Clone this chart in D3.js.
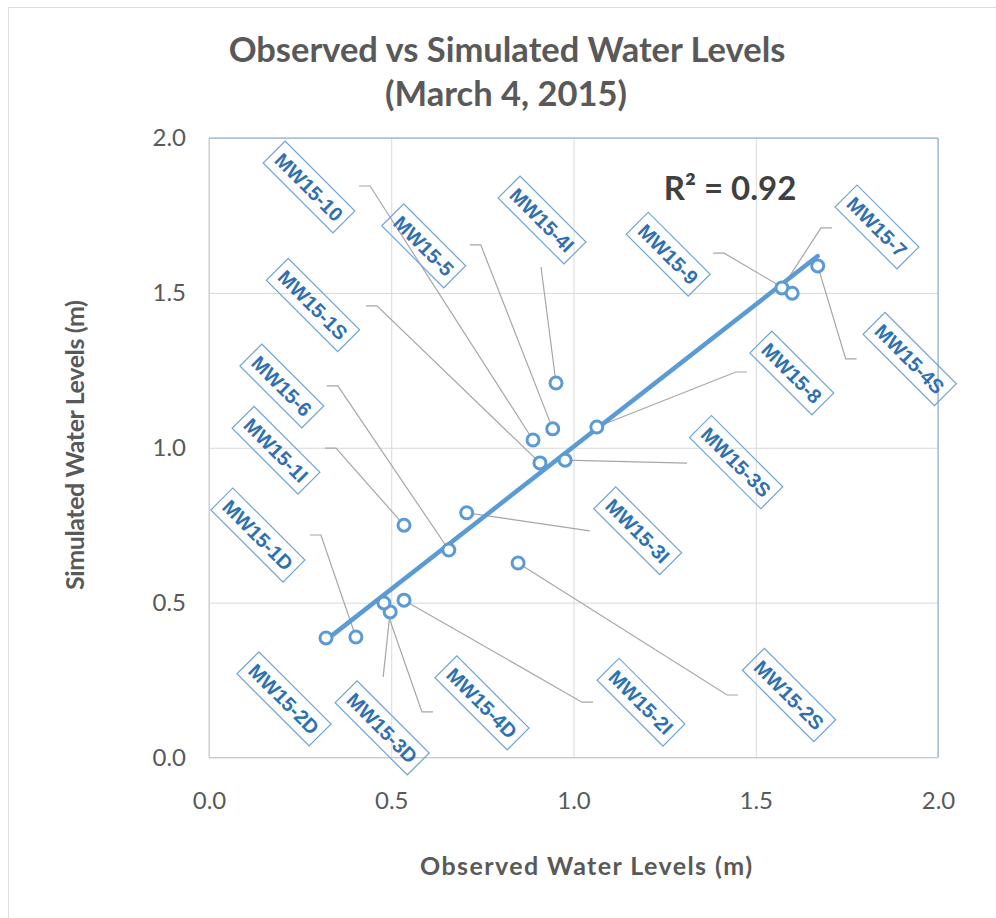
<!DOCTYPE html>
<html>
<head>
<meta charset="UTF-8">
<style>
body {
	margin: 0 ;
	background-color: #ffffff ;
}
.tick text {
	font-family: Lato, "Open Sans", sans-serif ;
	font-size: 24px ;
	fill: #595959 ;
}
.grid line {
	stroke: #d9d9d9 ;
}
.well-label {
	font-family: "Liberation Sans", Arial, sans-serif ;
	font-weight: bold ;
	font-size: 20px ;
	fill: #2f70b0 ;
}
</style>
<title>Observed vs Simulated</title>
<script src="https://cdn.jsdelivr.net/npm/d3@7"></script>
</head>
<body>
<div id="chart"></div>

<script type="text/javascript">

	// well names and observed / simulated levels (m)
	const wells     = [ "MW15-2D", "MW15-1D", "MW15-3D", "MW15-4D", "MW15-2I", "MW15-1I", "MW15-6", "MW15-3I", "MW15-2S",
	                    "MW15-10", "MW15-5", "MW15-1S", "MW15-3S", "MW15-4I", "MW15-8", "MW15-7", "MW15-9", "MW15-4S" ] ;
	const observed  = [ 0.321, 0.403, 0.497, 0.480, 0.535, 0.535, 0.658, 0.707, 0.848,
	                    0.889, 0.943, 0.908, 0.977, 0.952, 1.064, 1.572, 1.600, 1.670 ] ;
	const simulated = [ 0.386, 0.389, 0.470, 0.499, 0.508, 0.750, 0.670, 0.790, 0.628,
	                    1.025, 1.061, 0.951, 0.960, 1.209, 1.067, 1.516, 1.499, 1.587 ] ;

	// linear trendline (as shown on the chart)
	const trendSlope = 0.919 ;
	const trendIntercept = 0.084 ;
	const rSquared = "0.92" ;

	const tickValues = [ 0, 0.5, 1.0, 1.5, 2.0 ] ;

	// label placement, pixel offsets from the point: label centre, leader start, elbow?
	const labelLayout = {
		"MW15-2D": [ -42, 61, null, null, false ],
		"MW15-1D": [ -98, -102, -46, -102, true ],
		"MW15-3D": [ -8, 116, -7, 65, false ],
		"MW15-4D": [ 98, 100, 49, 109, true ],
		"MW15-2I": [ 237, 102, 189, 102, true ],
		"MW15-1I": [ -128, -75, -79, -77, true ],
		"MW15-6":  [ -167, -164, -122, -164, true ],
		"MW15-3I": [ 171, 18, 123, 18, false ],
		"MW15-2S": [ 271, 132, 220, 132, true ],
		"MW15-10": [ -224, -253, -174, -254, true ],
		"MW15-5":  [ -129, -183, -83, -184, true ],
		"MW15-1S": [ -227, -158, -174, -157, true ],
		"MW15-3S": [ 171, 2, 122, 3, false ],
		"MW15-4I": [ -14, -163, -15, -116, false ],
		"MW15-8":  [ 195, -54, 150, -55, true ],
		"MW15-7":  [ 95, -61, 50, -60, true ],
		"MW15-9":  [ -124, -39, -79, -40, true ],
		"MW15-4S": [ 92, 93, 39, 93, true ]
	} ;

	const width = 996 ;
	const height = 918 ;
	const plot = { left: 209, right: 938, top: 138, bottom: 757.5 } ;

	const svg = d3.select( "#chart" ).append( "svg" )
		.attr( "width", width )
		.attr( "height", height ) ;

	// outer chart frame
	svg.append( "rect" )
		.attr( "x", 8.5 ).attr( "y", 7.5 )
		.attr( "width", width ).attr( "height", height )
		.attr( "fill", "none" )
		.attr( "stroke", "#dcdcdc" ) ;

	const x = d3.scaleLinear().domain( [ 0, 2 ] ).range( [ plot.left, plot.right ] ) ;
	const y = d3.scaleLinear().domain( [ 0, 2 ] ).range( [ plot.bottom, plot.top ] ) ;

	// gridlines
	svg.append( "g" )
		.attr( "class", "grid" )
		.attr( "transform", "translate(0," + plot.bottom + ")" )
		.call( d3.axisBottom( x ).tickValues( tickValues ).tickSize( -( plot.bottom - plot.top ) ).tickFormat( "" ) )
		.call( g => g.select( ".domain" ).remove() ) ;
	svg.append( "g" )
		.attr( "class", "grid" )
		.attr( "transform", "translate(" + plot.left + ",0)" )
		.call( d3.axisLeft( y ).tickValues( tickValues ).tickSize( -( plot.right - plot.left ) ).tickFormat( "" ) )
		.call( g => g.select( ".domain" ).remove() ) ;

	// plot area border: blue top / right, grey axis lines
	svg.append( "line" )
		.attr( "x1", plot.left ).attr( "x2", plot.right )
		.attr( "y1", plot.top ).attr( "y2", plot.top )
		.attr( "stroke", "#7aa7d6" ) ;
	svg.append( "line" )
		.attr( "x1", plot.right ).attr( "x2", plot.right )
		.attr( "y1", plot.top ).attr( "y2", plot.bottom )
		.attr( "stroke", "#7aa7d6" ) ;
	svg.append( "line" )
		.attr( "x1", plot.left ).attr( "x2", plot.left )
		.attr( "y1", plot.top ).attr( "y2", plot.bottom )
		.attr( "stroke", "#c8c8c8" ) ;
	svg.append( "line" )
		.attr( "x1", plot.left ).attr( "x2", plot.right )
		.attr( "y1", plot.bottom ).attr( "y2", plot.bottom )
		.attr( "stroke", "#c8c8c8" ) ;

	// tick labels
	const fmt = d3.format( ".1f" ) ;
	svg.append( "g" )
		.attr( "transform", "translate(0," + plot.bottom + ")" )
		.call( d3.axisBottom( x ).tickValues( tickValues ).tickSize( 0 ).tickPadding( 34 ).tickFormat( fmt ) )
		.call( g => g.select( ".domain" ).remove() ) ;
	svg.append( "g" )
		.attr( "transform", "translate(" + plot.left + ",0)" )
		.call( d3.axisLeft( y ).tickValues( tickValues ).tickSize( 0 ).tickPadding( 23 ).tickFormat( fmt ) )
		.call( g => g.select( ".domain" ).remove() ) ;

	// titles
	const titleFont = "Lato, 'Open Sans', sans-serif" ;
	svg.append( "text" )
		.attr( "x", 507 ).attr( "y", 62 )
		.attr( "text-anchor", "middle" )
		.attr( "font-family", titleFont ).attr( "font-weight", "bold" ).attr( "font-size", 34.5 )
		.attr( "fill", "#595959" )
		.text( "Observed vs Simulated Water Levels" ) ;
	svg.append( "text" )
		.attr( "x", 506 ).attr( "y", 106 )
		.attr( "text-anchor", "middle" )
		.attr( "font-family", titleFont ).attr( "font-weight", "bold" ).attr( "font-size", 34.5 )
		.attr( "fill", "#595959" )
		.text( "(March 4, 2015)" ) ;
	svg.append( "text" )
		.attr( "x", 586 ).attr( "y", 875 )
		.attr( "text-anchor", "middle" )
		.attr( "font-family", titleFont ).attr( "font-weight", "bold" ).attr( "font-size", 25 )
		.attr( "textLength", 332 )
		.attr( "fill", "#595959" )
		.text( "Observed Water Levels (m)" ) ;
	svg.append( "text" )
		.attr( "transform", "translate(84,445) rotate(-90)" )
		.attr( "text-anchor", "middle" )
		.attr( "font-family", titleFont ).attr( "font-weight", "bold" ).attr( "font-size", 25 )
		.attr( "textLength", 290 )
		.attr( "fill", "#595959" )
		.text( "Simulated Water Levels (m)" ) ;

	// R squared
	svg.append( "text" )
		.attr( "x", 730 ).attr( "y", 200 )
		.attr( "text-anchor", "middle" )
		.attr( "font-family", titleFont ).attr( "font-weight", "bold" ).attr( "font-size", 33 )
		.attr( "fill", "#404040" )
		.text( "R\u00b2 = " + rSquared ) ;

	const points = wells.map( function( w, i ) {
		return { name: w, ox: observed[i], sy: simulated[i] } ;
	}) ;

	// leader lines
	points.forEach( function( d ) {
		const lay = labelLayout[ d.name ] ;
		if( lay[2] === null ) return ;
		const px = x( d.ox ), py = y( d.sy ) ;
		const sx = px + lay[2], sy = py + lay[3] ;
		const pts = [ [ sx, sy ] ] ;
		if( lay[4] ) pts.push( [ sx + ( lay[2] < 0 ? 11 : -11 ), sy ] ) ;
		pts.push( [ px, py ] ) ;
		svg.append( "path" )
			.attr( "d", d3.line()( pts ) )
			.attr( "fill", "none" )
			.attr( "stroke", "#a6a6a6" )
			.attr( "stroke-width", 1.2 ) ;
	}) ;

	// trendline
	const xExt = d3.extent( observed ) ;
	svg.append( "line" )
		.attr( "x1", x( xExt[0] ) ).attr( "y1", y( trendIntercept + trendSlope * xExt[0] ) )
		.attr( "x2", x( xExt[1] ) ).attr( "y2", y( trendIntercept + trendSlope * xExt[1] ) )
		.attr( "stroke", "#5b9bd5" )
		.attr( "stroke-width", 4.5 )
		.attr( "stroke-linecap", "round" ) ;

	// markers
	svg.selectAll( "circle.pt" )
		.data( points )
		.enter()
		.append( "circle" )
			.attr( "class", "pt" )
			.attr( "cx", function(d) { return x( d.ox ) } )
			.attr( "cy", function(d) { return y( d.sy ) } )
			.attr( "r", 6 )
			.attr( "fill", "white" )
			.attr( "stroke", "#5b9bd5" )
			.attr( "stroke-width", 3 ) ;

	// rotated boxed labels
	const labels = svg.selectAll( "g.lbl" )
		.data( points )
		.enter()
		.append( "g" )
			.attr( "class", "lbl" )
			.attr( "transform", function(d) {
				const lay = labelLayout[ d.name ] ;
				return "translate(" + ( x( d.ox ) + lay[0] ) + "," + ( y( d.sy ) + lay[1] ) + ") rotate(45)" ;
			}) ;
	labels.append( "text" )
		.attr( "class", "well-label" )
		.attr( "text-anchor", "middle" )
		.attr( "dy", "0.36em" )
		.text( function(d) { return d.name } ) ;
	labels.each( function() {
		const g = d3.select( this ) ;
		const w = g.select( "text" ).node().getComputedTextLength() + 12 ;
		g.insert( "rect", "text" )
			.attr( "x", -w / 2 ).attr( "y", -15.5 )
			.attr( "width", w ).attr( "height", 31 )
			.attr( "fill", "none" )
			.attr( "stroke", "#6fa3d8" )
			.attr( "stroke-width", 1.2 ) ;
	}) ;

</script>
</body>
</html>
